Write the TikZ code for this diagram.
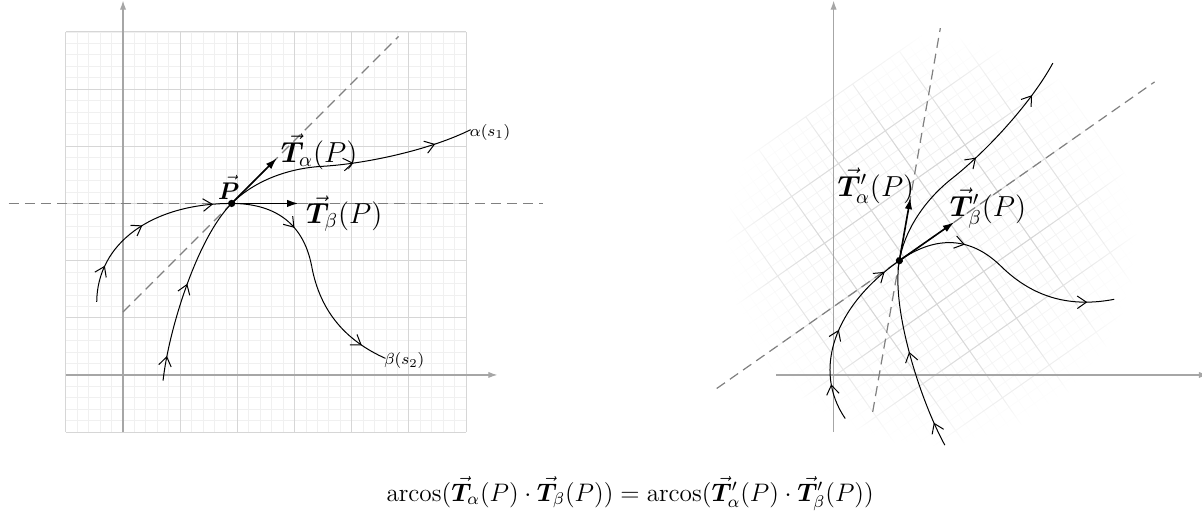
\documentclass[tikz,border=0pt]{standalone}
\usepackage{amsmath,bm,graphicx}
\usetikzlibrary{arrows.meta,decorations.markings,fadings}
\pgfdeclareradialshading{gridfadeshade}{\pgfpointorigin}{color(0bp)=(pgftransparent!0); color(12bp)=(pgftransparent!0); color(25bp)=(pgftransparent!100); color(50bp)=(pgftransparent!100)}
\pgfdeclarefading{gridfade}{\pgfuseshading{gridfadeshade}}
\tikzset{
  barbtip/.tip={Straight Barb[length=1.6mm,width=2.2mm]},
  minorgrid/.style={draw=black!6, line width=0.4pt},
  majorgrid/.style={draw=black!16, line width=0.5pt},
  axisline/.style={draw=black!35, line width=0.6pt, -{Latex[length=1.6mm,width=1.1mm]}},
  dashline/.style={draw=black!50, line width=0.6pt, dash pattern=on 5pt off 3pt},
  curve/.style={draw=black, line width=0.5pt},
  arr/.style={postaction={decorate,decoration={markings,mark=at position #1 with {\arrow{barbtip}}}}},
  tangent/.style={draw=black, line width=0.8pt, -{Latex[length=2mm,width=1.3mm]}},
  lbl/.style={inner sep=1pt},
}
\newcommand\drawgridlines{%
  \draw[minorgrid] (-1,-1) grid[step=0.2] (6,6);
  \draw[majorgrid] (-1,-1) grid[step=1] (6,6);
}
\newcommand\drawcontent[1]{%
  \coordinate (#1P) at (1.9,3);
  \coordinate (#1a0) at (0.7,-0.1);
  \coordinate (#1a1) at (3.5,3.65);
  \coordinate (#1a2) at (6.08,4.29);
  \coordinate (#1b0) at (-0.46,1.28);
  \coordinate (#1b1) at (3.3,1.9);
  \coordinate (#1b2) at (4.59,0.29);
  \coordinate (#1h0) at (-2,3);
  \coordinate (#1h1) at (7.35,3);
  \coordinate (#1d0) at (0,1.1);
  \coordinate (#1d1) at (4.82,5.92);
  \coordinate (#1Ta) at (2.69,3.79);
  \coordinate (#1Tb) at (3.07,3);
  \draw[dashline] (#1h0) -- (#1h1);
  \draw[dashline] (#1d0) -- (#1d1);
  \draw[curve, arr=0.13, arr=0.52] (#1a0) .. controls (0.8,0.8) and (1.3,2.4) .. (#1P);
  \draw[curve] (#1P) .. controls (2.3,3.4) and (2.9,3.62) .. (#1a1);
  \draw[curve, arr=0.2, arr=0.75] (#1a1) .. controls (4.3,3.7) and (5.4,3.95) .. (#1a2);
  \draw[curve, arr=0.2, arr=0.5, arr=0.9] (#1b0) .. controls (-0.45,2.3) and (0.5,3.0) .. (#1P);
  \draw[curve, arr=0.62] (#1P) .. controls (2.6,3.0) and (3.15,2.7) .. (#1b1);
  \draw[curve, arr=0.78] (#1b1) .. controls (3.45,1.1) and (3.9,0.6) .. (#1b2);
  \draw[tangent] (#1P) -- (#1Ta);
  \draw[tangent] (#1P) -- (#1Tb);
  \fill (#1P) circle (1.8pt);
}
\begin{document}
\begin{tikzpicture}
\useasboundingbox (-2.152,-2.431) rectangle (18.874,6.559);
% ---------- left panel ----------
\drawgridlines
\coordinate (lxs) at (-1,0);
\coordinate (lxe) at (6.55,0);
\coordinate (lys) at (0,-1);
\coordinate (lye) at (0,6.55);
\draw[axisline] (lxs) -- (lxe);
\draw[axisline] (lys) -- (lye);
\drawcontent{L}
\node[lbl] (LlabTa) at (3.43,3.90) {\Large $\vec{\bm T}_\alpha(P)$};
\node[lbl] (LlabTb) at (3.87,2.82) {\Large $\vec{\bm T}_\beta(P)$};
\node[lbl] (LlabP) at (1.85,3.28) {\large $\vec{\bm P}$};
\node[lbl] (Llaba) at (6.42,4.25) {\footnotesize $\alpha(s_1)$};
\node[lbl] (Llabb) at (4.92,0.245) {\footnotesize $\beta(s_2)$};
% ---------- right panel ----------
\coordinate (rxs) at (11.43,0);
\coordinate (rxe) at (18.98,0);
\coordinate (rys) at (12.43,-1);
\coordinate (rye) at (12.43,6.55);
\begin{scope}
  \path[scope fading=gridfade] (14.13,2.36) circle (3.6);
  \begin{scope}[shift={(13.58,2.0)},rotate=35,shift={(-1.9,-3)}]
    \drawgridlines
  \end{scope}
\end{scope}
\draw[axisline] (rxs) -- (rxe);
\draw[axisline] (rys) -- (rye);
\begin{scope}[shift={(13.58,2.0)},rotate=35,shift={(-1.9,-3)}]
  \drawcontent{R}
\end{scope}
\node[lbl] (RlabTa) at (13.17,3.31) {\Large $\vec{\bm T}'_\alpha(P)$};
\node[lbl] (RlabTb) at (15.13,2.92) {\Large $\vec{\bm T}'_\beta(P)$};
% ---------- formula ----------
\node[lbl] (formula) at (8.87,-2.08) {\scalebox{1.05}{\large $\operatorname{arcos}(\vec{\bm T}_\alpha(P)\cdot\vec{\bm T}_\beta(P)) = \operatorname{arcos}(\vec{\bm T}'_\alpha(P)\cdot\vec{\bm T}'_\beta(P))$}};
\end{tikzpicture}
\end{document}
